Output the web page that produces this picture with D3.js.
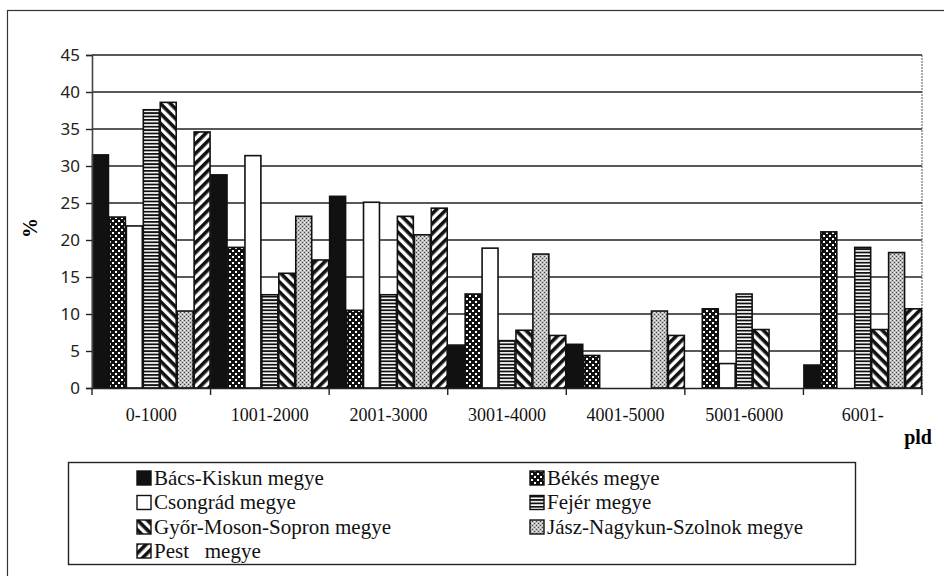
<!DOCTYPE html>
<html><head><meta charset="utf-8">
<script src="https://cdn.jsdelivr.net/npm/d3@7"></script>
<style>
body{margin:0;background:#fff}svg{display:block}
.serif{font-family:"Liberation Serif","Times New Roman","DejaVu Serif",serif}
.sans{font-family:"Noto Sans","Open Sans",sans-serif}
</style>
</head><body>
<svg id="c" width="944" height="576"></svg>
<script>
const categories = ["0-1000","1001-2000","2001-3000","3001-4000","4001-5000","5001-6000","6001-"];
const seriesNames = ["Bács-Kiskun megye","Békés megye","Csongrád megye","Fejér megye","Győr-Moson-Sopron megye","Jász-Nagykun-Szolnok megye","Pest   megye"];
const bacs    = [31.5, 28.8, 25.9, 5.8, 5.9, 0, 3.1];
const bekes   = [23.1, 19.0, 10.5, 12.7, 4.4, 10.7, 21.1];
const csongrad= [21.9, 31.4, 25.1, 18.9, 0, 3.3, 0];
const fejer   = [37.6, 12.6, 12.6, 6.4, 0, 12.7, 19.0];
const gyor    = [38.6, 15.5, 23.2, 7.8, 0, 7.9, 7.9];
const jnsz    = [10.4, 23.2, 20.7, 18.1, 10.4, 0, 18.3];
const pest    = [34.6, 17.3, 24.3, 7.1, 7.1, 0, 10.7];
const yTicks  = [0,5,10,15,20,25,30,35,40,45];
const seriesValues = [bacs, bekes, csongrad, fejer, gyor, jnsz, pest];
const fills = ["url(#pBlack)","url(#pDots)","url(#pWhite)","url(#pHoriz)","url(#pBack)","url(#pGray)","url(#pFwd)"];

const svg = d3.select("#c");
const defs = svg.append("defs");
let p;
p = defs.append("pattern").attr("id","pBlack").attr("width",4).attr("height",4).attr("patternUnits","userSpaceOnUse");
p.append("rect").attr("width",4).attr("height",4).attr("fill","#111");
p = defs.append("pattern").attr("id","pWhite").attr("width",4).attr("height",4).attr("patternUnits","userSpaceOnUse");
p.append("rect").attr("width",4).attr("height",4).attr("fill","#fff");
p = defs.append("pattern").attr("id","pDots").attr("width",6).attr("height",6).attr("patternUnits","userSpaceOnUse");
p.append("rect").attr("width",6).attr("height",6).attr("fill","#111");
p.append("rect").attr("x",1).attr("y",1).attr("width",2).attr("height",2).attr("fill","#fff");
p.append("rect").attr("x",4).attr("y",4).attr("width",2).attr("height",2).attr("fill","#fff");
p = defs.append("pattern").attr("id","pHoriz").attr("width",4).attr("height",3.4).attr("patternUnits","userSpaceOnUse");
p.append("rect").attr("width",4).attr("height",3.4).attr("fill","#fff");
p.append("rect").attr("width",4).attr("height",1.8).attr("fill","#111");
p = defs.append("pattern").attr("id","pBack").attr("width",7).attr("height",7).attr("patternUnits","userSpaceOnUse").attr("patternTransform","rotate(45)");
p.append("rect").attr("width",7).attr("height",7).attr("fill","#fff");
p.append("rect").attr("width",7).attr("height",3.6).attr("fill","#111");
p = defs.append("pattern").attr("id","pFwd").attr("width",7).attr("height",7).attr("patternUnits","userSpaceOnUse").attr("patternTransform","rotate(-45)");
p.append("rect").attr("width",7).attr("height",7).attr("fill","#fff");
p.append("rect").attr("width",7).attr("height",3.6).attr("fill","#111");
p = defs.append("pattern").attr("id","pGray").attr("width",4).attr("height",4).attr("patternUnits","userSpaceOnUse");
p.append("rect").attr("width",4).attr("height",4).attr("fill","#bdbdbd");
p.append("rect").attr("x",0).attr("y",0).attr("width",1).attr("height",1).attr("fill","#444");
p.append("rect").attr("x",2).attr("y",2).attr("width",1).attr("height",1).attr("fill","#444");
p.append("rect").attr("x",2).attr("y",0).attr("width",1).attr("height",1).attr("fill","#eee");
p.append("rect").attr("x",0).attr("y",2).attr("width",1).attr("height",1).attr("fill","#eee");

// outer frame
svg.append("rect").attr("x",7.5).attr("y",10.5).attr("width",950).attr("height",600)
  .attr("fill","none").attr("stroke","#333").attr("stroke-width",1.2);

const pLeft = 92, pRight = 922, pTop = 55, pBottom = 388;
const x = d3.scaleBand().domain(categories).range([pLeft,pRight]).paddingInner(0).paddingOuter(0);
const xs = d3.scaleBand().domain(d3.range(seriesNames.length)).range([0,x.bandwidth()]).padding(0);
const y = d3.scaleLinear().domain([0,45]).range([pBottom,pTop]);

// gridlines
svg.append("g").selectAll("line").data(yTicks.filter(t=>t>0)).join("line")
  .attr("x1",pLeft).attr("x2",pRight).attr("y1",d=>y(d)).attr("y2",d=>y(d))
  .attr("stroke","#222").attr("stroke-width",1.4);
svg.append("line").attr("x1",pRight).attr("x2",pRight).attr("y1",pTop).attr("y2",pBottom)
  .attr("stroke","#555").attr("stroke-width",1).attr("stroke-dasharray","2,1");

// bars
const g = svg.append("g");
seriesValues.forEach((vals,si)=>{
  g.append("g").selectAll("rect").data(vals.map((v,i)=>({c:categories[i],v})).filter(d=>d.v>0)).join("rect")
    .attr("x",d=>x(d.c)+xs(si)+0.5).attr("width",xs.bandwidth()-1)
    .attr("y",d=>y(d.v)).attr("height",d=>pBottom-y(d.v))
    .attr("fill",fills[si]).attr("stroke","#111").attr("stroke-width",1.6);
});

// y axis
const yAxis = d3.axisLeft(y).tickValues(yTicks).tickSize(6).tickPadding(6);
const ya = svg.append("g").attr("transform",`translate(${pLeft},0)`).call(yAxis)
  .attr("font-family",null).attr("font-size",null);
ya.select(".domain").attr("stroke","#444").attr("stroke-width",1.6);
ya.selectAll(".tick line").attr("stroke","#222").attr("stroke-width",1.4);
ya.selectAll("text").attr("class","sans").style("font-size","17px").attr("fill","#222");

// x axis
const xAxis = d3.axisBottom(x).tickSize(0).tickPadding(20);
const xa = svg.append("g").attr("transform",`translate(0,${pBottom})`).call(xAxis)
  .attr("font-family",null).attr("font-size",null);
xa.select(".domain").attr("stroke","#222").attr("stroke-width",1.6);
xa.selectAll("text").attr("class","serif").style("font-size","18px").attr("fill","#111");
const bounds = categories.map(c=>x(c)).concat([pRight]);
svg.append("g").selectAll("line").data(bounds).join("line")
  .attr("x1",d=>d).attr("x2",d=>d).attr("y1",pBottom).attr("y2",pBottom+7)
  .attr("stroke","#222").attr("stroke-width",1.4);

// axis titles
svg.append("text").attr("class","serif").attr("transform","translate(37,228) rotate(-90)").attr("text-anchor","middle")
  .style("font-weight","bold").style("font-size","20px").text("%");
svg.append("text").attr("class","serif").attr("x",932).attr("y",444).attr("text-anchor","end")
  .style("font-weight","bold").style("font-size","20px").text("pld");

// legend
svg.append("rect").attr("x",68.5).attr("y",462.5).attr("width",787).attr("height",102)
  .attr("fill","#fff").attr("stroke","#222").attr("stroke-width",1.4);
const colX = [137, 530];
const rowY = [478, 502.5, 527, 551];
const leg = svg.append("g").selectAll("g").data(seriesNames).join("g")
  .attr("transform",(d,i)=>`translate(${colX[i%2]},${rowY[Math.floor(i/2)]})`);
leg.append("rect").attr("x",0).attr("y",-7).attr("width",14).attr("height",14)
  .attr("fill",(d,i)=>fills[i]).attr("stroke","#111").attr("stroke-width",1.4);
leg.append("text").attr("class","serif").attr("x",17).attr("y",6.5).style("white-space","pre")
  .style("font-size","21px").attr("fill","#111").text(d=>d);
</script>
</body></html>
